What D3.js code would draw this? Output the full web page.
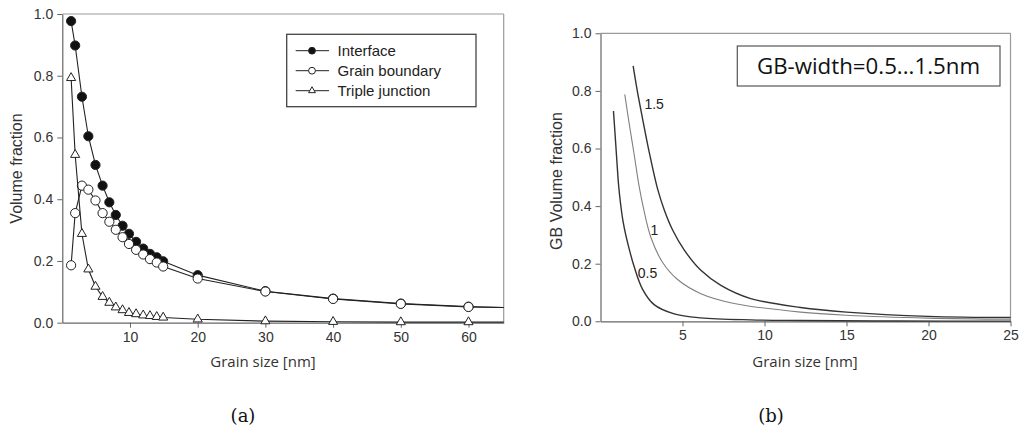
<!DOCTYPE html>
<html>
<head>
<meta charset="utf-8">
<script src="https://cdn.jsdelivr.net/npm/d3@7"></script>
<style>
  html, body { margin: 0; padding: 0; background: #fff; }
  svg { display: block; }
</style>
</head>
<body>
<svg id="chart" width="1021" height="432"></svg>
<script>
// ---------- Panel (a) data ----------
const grainSizeA = [1.3, 1.9, 2.9, 3.85, 4.9, 5.95, 6.95, 7.9, 8.9, 9.85, 10.9, 11.95, 12.95, 13.95, 14.9, 20, 30, 40, 50, 60];
const interfaceFrac = [0.977, 0.898, 0.732, 0.604, 0.511, 0.444, 0.390, 0.349, 0.314, 0.288, 0.262, 0.240, 0.223, 0.212, 0.199, 0.154, 0.102, 0.078, 0.062, 0.052];
const grainBoundaryFrac = [0.186, 0.355, 0.444, 0.431, 0.396, 0.355, 0.327, 0.301, 0.277, 0.255, 0.236, 0.221, 0.206, 0.195, 0.182, 0.143, 0.101, 0.077, 0.061, 0.051];
const tripleJunctionFrac = [0.793, 0.544, 0.288, 0.173, 0.117, 0.084, 0.065, 0.050, 0.041, 0.032, 0.028, 0.024, 0.022, 0.019, 0.017, 0.011, 0.005, 0.003, 0.002, 0.002];
// line continuation to the right frame edge (no marker)
const lineEndX = 65.2;
const lineEndValues = [0.049, 0.049, 0.002];
const seriesNamesA = ["Interface", "Grain boundary", "Triple junction"];
const xTicksA = [10, 20, 30, 40, 50, 60];
const yTicks = [0, 0.2, 0.4, 0.6, 0.8, 1.0];

// ---------- Panel (b) data ----------
const widthLabels = ["0.5", "1", "1.5"];
const gb05x = [0.79, 0.90, 1.00, 1.10, 1.22, 1.38, 1.54, 1.80, 2.05, 2.56, 3.27, 4.49, 6.12, 9.16, 12.2, 18, 25];
const gb05y = [0.730, 0.640, 0.555, 0.475, 0.410, 0.345, 0.300, 0.240, 0.190, 0.112, 0.058, 0.026, 0.012, 0.005, 0.003, 0.001, 0.0005];
const gb1x = [1.48, 1.74, 2.05, 2.35, 2.65, 3.07, 3.78, 4.70, 6.12, 8.15, 12.2, 15, 20, 25];
const gb1y = [0.788, 0.690, 0.580, 0.470, 0.385, 0.292, 0.205, 0.145, 0.096, 0.062, 0.032, 0.021, 0.011, 0.007];
const gb15x = [1.99, 2.26, 2.56, 2.96, 3.48, 3.90, 4.39, 5.10, 6.12, 7.34, 9.16, 12.2, 15, 20, 25];
const gb15y = [0.887, 0.795, 0.705, 0.590, 0.460, 0.385, 0.318, 0.248, 0.177, 0.125, 0.079, 0.048, 0.032, 0.017, 0.013];
const xTicksB = [5, 10, 15, 20, 25];

// ---------- setup ----------
const svg = d3.select("#chart");
const tickFont = "'Liberation Sans', Arial, sans-serif";
const segoeFont = "'Open Sans', 'Noto Sans', sans-serif";
const axisColor = "#666";
const frameColor = "#9a9a9a";
const textColor = "#333";

function drawFrame(g, x, y, xTicks) {
  const [x0, x1] = x.range();
  const [y0, y1] = y.range();
  g.append("line").attr("x1", x0).attr("x2", x1).attr("y1", y1).attr("y2", y1)
    .attr("stroke", frameColor).attr("stroke-width", 1.2);
  g.append("line").attr("x1", x1).attr("x2", x1).attr("y1", y1).attr("y2", y0)
    .attr("stroke", frameColor).attr("stroke-width", 1.2);

  const xa = g.append("g").attr("transform", `translate(0,${y0})`)
    .call(d3.axisBottom(x).tickValues(xTicks).tickSize(5).tickSizeOuter(0).tickPadding(4).tickFormat(d3.format("d")));
  const ya = g.append("g").attr("transform", `translate(${x0},0)`)
    .call(d3.axisLeft(y).tickValues(yTicks).tickSize(5).tickSizeOuter(0).tickPadding(4).tickFormat(d3.format(".1f")));
  [xa, ya].forEach(a => {
    a.select(".domain").attr("stroke", axisColor).attr("stroke-width", 1.2);
    a.selectAll(".tick line").attr("stroke", axisColor);
    a.selectAll(".tick text").attr("fill", textColor).style("font-family", tickFont).style("font-size", "14px");
  });
}

// ---------- Panel (a) ----------
const gA = svg.append("g");
const xA = d3.scaleLinear().domain([0, 65.2]).range([62.3, 503.7]);
const yA = d3.scaleLinear().domain([0, 1]).range([322.7, 14]);
drawFrame(gA, xA, yA, xTicksA);

const seriesA = [interfaceFrac, grainBoundaryFrac, tripleJunctionFrac];
const lineA = d3.line().x(d => xA(d[0])).y(d => yA(d[1]));
seriesA.forEach((vals, i) => {
  const pts = grainSizeA.map((gx, j) => [gx, vals[j]]);
  pts.push([lineEndX, lineEndValues[i]]);
  gA.append("path").datum(pts).attr("d", lineA)
    .attr("fill", "none").attr("stroke", "#222").attr("stroke-width", 1.1);
  const mk = gA.append("g");
  const mpts = grainSizeA.map((gx, j) => [gx, vals[j]]);
  if (i === 2) {
    mk.selectAll("path").data(mpts).join("path")
      .attr("d", d3.symbol(d3.symbolTriangle, 36)())
      .attr("transform", d => `translate(${xA(d[0])},${yA(d[1])})`)
      .attr("fill", "#fff").attr("stroke", "#222").attr("stroke-width", 1);
  } else {
    mk.selectAll("circle").data(mpts).join("circle")
      .attr("cx", d => xA(d[0])).attr("cy", d => yA(d[1])).attr("r", 4.6)
      .attr("fill", i === 0 ? "#111" : "#fff").attr("stroke", "#222").attr("stroke-width", 1);
  }
});

// legend
const leg = gA.append("g");
leg.append("rect").attr("x", 286.7).attr("y", 34.3).attr("width", 189.3).attr("height", 72.4)
  .attr("fill", "#fff").attr("stroke", "#444").attr("stroke-width", 1.3);
seriesNamesA.forEach((name, i) => {
  const ly = 50.7 + i * 20;
  leg.append("line").attr("x1", 295.7).attr("x2", 329).attr("y1", ly).attr("y2", ly)
    .attr("stroke", "#222").attr("stroke-width", 1);
  if (i === 2) {
    leg.append("path").attr("d", d3.symbol(d3.symbolTriangle, 20)())
      .attr("transform", `translate(312,${ly})`)
      .attr("fill", "#fff").attr("stroke", "#222").attr("stroke-width", 1);
  } else {
    leg.append("circle").attr("cx", 312).attr("cy", ly).attr("r", 3.4)
      .attr("fill", i === 0 ? "#111" : "#fff").attr("stroke", "#222").attr("stroke-width", 1);
  }
  leg.append("text").attr("x", 337.5).attr("y", ly).attr("dy", "0.35em")
    .attr("fill", "#222").style("font-family", tickFont).style("font-size", "15px").text(name);
});

gA.append("text").attr("transform", "translate(16,168.5) rotate(-90)")
  .attr("text-anchor", "middle").attr("dy", "0.35em")
  .attr("fill", textColor).style("font-family", tickFont).style("font-size", "16px")
  .text("Volume fraction");
gA.append("text").attr("x", 263).attr("y", 362).attr("dy", "0.35em").attr("text-anchor", "middle")
  .attr("fill", textColor).style("font-family", segoeFont).style("font-size", "15px")
  .text("Grain size [nm]");
gA.append("text").attr("x", 243).attr("y", 416).attr("dy", "0.35em").attr("text-anchor", "middle")
  .attr("fill", "#111").style("font-family", "'DejaVu Serif', 'Liberation Serif', serif").style("font-size", "18px")
  .text("(a)");

// ---------- Panel (b) ----------
const gB = svg.append("g");
const xB = d3.scaleLinear().domain([0, 25]).range([600.5, 1010.5]);
const yB = d3.scaleLinear().domain([0, 1]).range([321.3, 33.3]);
drawFrame(gB, xB, yB, xTicksB);

const lineB = d3.line().x(d => xB(d[0])).y(d => yB(d[1])).curve(d3.curveCatmullRom.alpha(0.5));
const curvesB = [
  { xs: gb05x, ys: gb05y, color: "#333", w: 1.4 },
  { xs: gb1x, ys: gb1y, color: "#808080", w: 1.1 },
  { xs: gb15x, ys: gb15y, color: "#333", w: 1.4 }
];
curvesB.forEach(c => {
  gB.append("path").datum(c.xs.map((v, i) => [v, c.ys[i]])).attr("d", lineB)
    .attr("fill", "none").attr("stroke", c.color).attr("stroke-width", c.w);
});
const labelPos = [[2.87, 0.168], [3.28, 0.317], [3.27, 0.753]];
widthLabels.forEach((t, i) => {
  gB.append("text").attr("x", xB(labelPos[i][0])).attr("y", yB(labelPos[i][1])).attr("dy", "0.35em")
    .attr("text-anchor", "middle").attr("fill", "#222")
    .style("font-family", tickFont).style("font-size", "14px").text(t);
});

// annotation box
gB.append("rect").attr("x", 737.3).attr("y", 46).attr("width", 262.7).attr("height", 40)
  .attr("fill", "#fff").attr("stroke", "#555").attr("stroke-width", 1.2);
const ann = gB.append("text").attr("x", 868.5).attr("y", 66).attr("dy", "0.36em").attr("text-anchor", "middle")
  .attr("fill", "#111").style("font-family", segoeFont).style("font-size", "20px")
  .text("GB-width=0.5...1.5nm");
const annW = ann.node().getComputedTextLength();
if (annW > 0) ann.style("font-size", (20 * 223 / annW).toFixed(2) + "px");

gB.append("text").attr("transform", "translate(556.5,181) rotate(-90)")
  .attr("text-anchor", "middle").attr("dy", "0.35em")
  .attr("fill", textColor).style("font-family", tickFont).style("font-size", "16px")
  .text("GB Volume fraction");
gB.append("text").attr("x", 805).attr("y", 362).attr("dy", "0.35em").attr("text-anchor", "middle")
  .attr("fill", textColor).style("font-family", segoeFont).style("font-size", "15px")
  .text("Grain size [nm]");
gB.append("text").attr("x", 771).attr("y", 416).attr("dy", "0.35em").attr("text-anchor", "middle")
  .attr("fill", "#111").style("font-family", "'DejaVu Serif', 'Liberation Serif', serif").style("font-size", "18px")
  .text("(b)");
</script>
</body>
</html>
